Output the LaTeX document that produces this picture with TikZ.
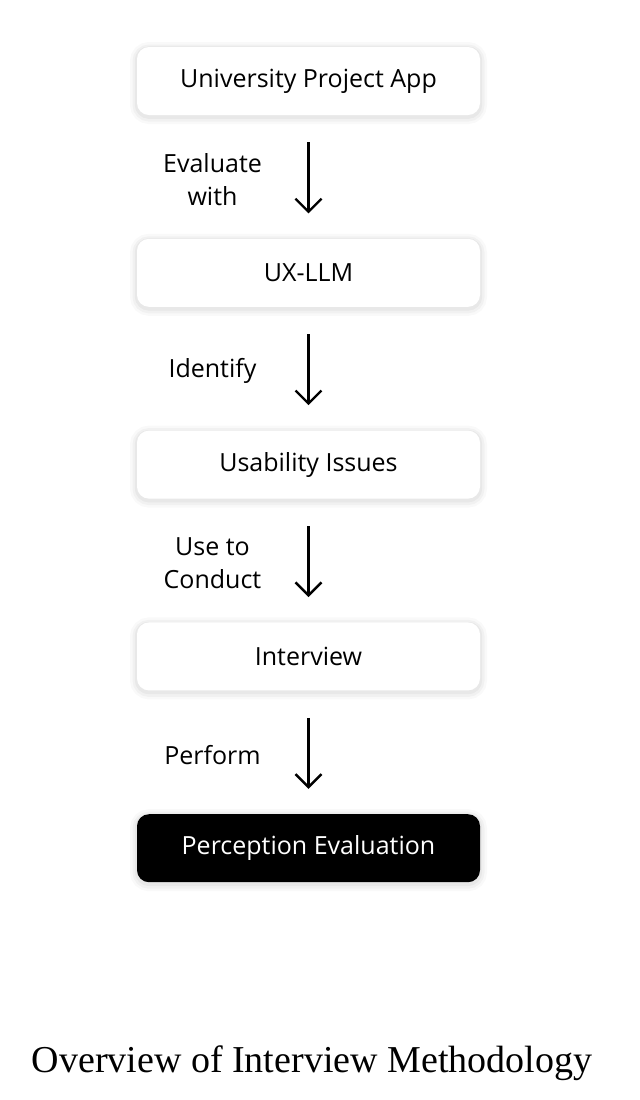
\documentclass[tikz,border=0pt]{standalone}
\usepackage{fontspec}
\newfontfamily\boxfont{Open Sans}
\newfontfamily\capfont{Liberation Serif}
\usepackage{tikz}
\usetikzlibrary{arrows.meta,positioning}

\begin{document}
\begin{tikzpicture}
    [node distance=61.5pt,
        soft shadow/.style={preaction={draw=black,draw opacity=0.025,line width=7pt,transform canvas={yshift=-1pt}},
            preaction={draw=black,draw opacity=0.03,line width=4.5pt,transform canvas={yshift=-1pt}},
            preaction={draw=black,draw opacity=0.04,line width=2.2pt,transform canvas={yshift=-0.8pt}}},
        step box/.style={rectangle,rounded corners=6pt,fill=white,minimum width=171.5pt,minimum height=34pt,
            font=\boxfont\fontsize{12.5}{15}\selectfont,soft shadow},
        last box/.style={step box,fill=black,text=white},
        flow/.style={-{Straight Barb[length=6.5pt,width=13pt]},line width=1.2pt,shorten <=13.5pt,shorten >=12.5pt},
        side text/.style={midway,xshift=-48pt,yshift=-1.2pt,align=center,font=\boxfont\fontsize{12.5}{16.5}\selectfont}]

    \useasboundingbox (0,0) rectangle (320pt,-550pt);

    \node[step box] (app) at (154.25pt,-40.5pt) {University Project App};
    \node[step box] (llm) [below=of app] {UX-LLM};
    \node[step box] (issues) [below=of llm] {Usability Issues};
    \node[step box] (interview) [below=of issues] {Interview};
    \node[last box] (perception) [below=of interview] {Perception Evaluation};

    \path[flow]
    (app) edge node[side text] {Evaluate\\with} (llm)
    (llm) edge node[side text] {Identify} (issues)
    (issues) edge node[side text] {Use to\\Conduct} (interview)
    (interview) edge node[side text] {Perform} (perception)
    ;

    \node (caption) at (156pt,-531.5pt) {\capfont\fontsize{19}{22}\selectfont Overview of Interview Methodology};
\end{tikzpicture}
\end{document}
